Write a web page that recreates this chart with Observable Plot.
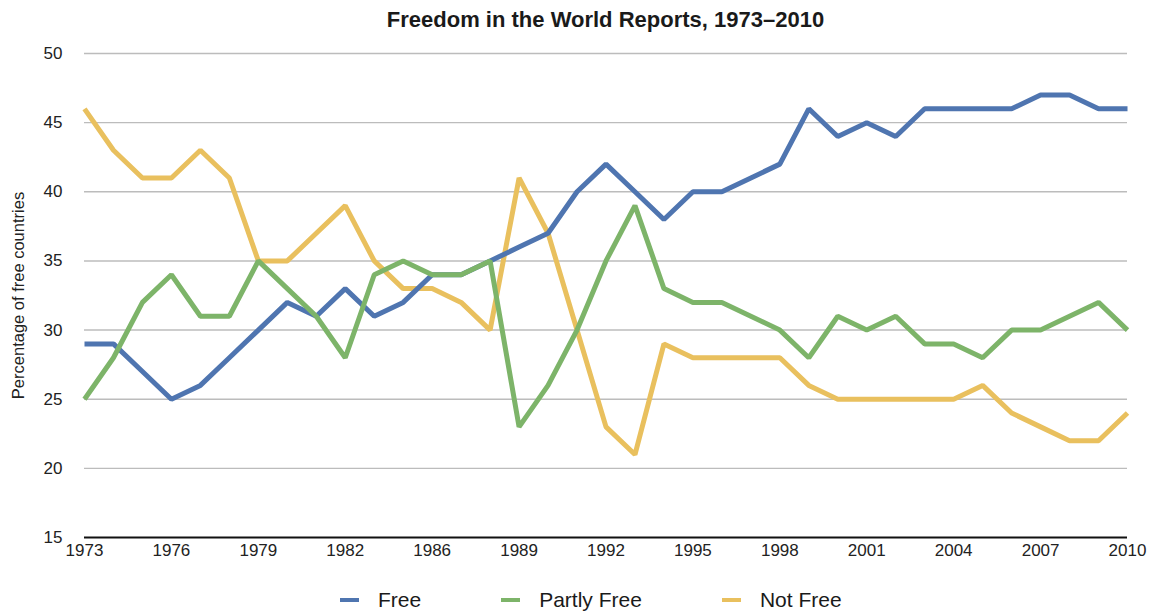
<!DOCTYPE html>
<html>
<head>
<meta charset="utf-8">
<script src="https://cdn.jsdelivr.net/npm/d3@7"></script>
<script src="https://cdn.jsdelivr.net/npm/@observablehq/plot@0.6"></script>
<style>
  html, body { margin: 0; padding: 0; background: #fff; }
  body { width: 1150px; height: 614px; overflow: hidden; font-family: "Liberation Sans", Arial, Helvetica, sans-serif; color: #1a1a1a; }
  #title { height: 40px; line-height: 40px; padding-left: 84px; padding-right: 23px; text-align: center; font-weight: bold; font-size: 22px; }
  #chart svg { display: block; }
  #chart svg [aria-label="y-axis label"] text { font-size: 16.5px; }
  #legend { height: 34px; display: flex; justify-content: flex-start; align-items: center; padding-left: 340px; padding-top: 6px; font-size: 21px; box-sizing: border-box; }
  .item { display: flex; align-items: center; margin-right: 80px; }
  .sw { width: 19px; height: 4px; margin-right: 19px; }
</style>
</head>
<body>
<div id="title">Freedom in the World Reports, 1973–2010</div>
<div id="chart"></div>
<div id="legend"></div>
<script>
const years = ["1973","1974","1975","1976","1977","1978","1979","1980","1981","1982","1983","1984",
  "1986","1987","1988","1989","1990","1991","1992","1993","1994","1995","1996","1997","1998","1999",
  "2000","2001","2002","2003","2004","2005","2006","2007","2008","2009","2010"];
const free =       [29,29,27,25,26,28,30,32,31,33,31,32,34,34,35,36,37,40,42,40,38,40,40,41,42,46,44,45,44,46,46,46,46,47,47,46,46];
const partlyFree = [25,28,32,34,31,31,35,33,31,28,34,35,34,34,35,23,26,30,35,39,33,32,32,31,30,28,31,30,31,29,29,28,30,30,31,32,30];
const notFree =    [46,43,41,41,43,41,35,35,37,39,35,33,33,32,30,41,37,30,23,21,29,28,28,28,28,26,25,25,25,25,25,26,24,23,22,22,24];
const tickYears = ["1973","1976","1979","1982","1986","1989","1992","1995","1998","2001","2004","2007","2010"];
const yTicks = [15,20,25,30,35,40,45,50];
const seriesNames = ["Free","Partly Free","Not Free"];
const seriesColors = ["#4f75b0","#7db469","#e9c05e"];

const table = (name, vals) => vals.map((v, i) => ({series: name, year: years[i], value: v}));
const rowsFree = table("Free", free);
const rowsPartly = table("Partly Free", partlyFree);
const rowsNot = table("Not Free", notFree);

const lineOpts = {x: "year", y: "value", stroke: "series", strokeWidth: 5, strokeLinejoin: "miter", strokeLinecap: "butt", curve: "linear"};

const chart = Plot.plot({
  width: 1150,
  height: 540,
  marginLeft: 84,
  marginRight: 23,
  marginTop: 13,
  marginBottom: 43,
  style: {fontFamily: '"Liberation Sans", Arial, Helvetica, sans-serif', fontSize: "17px", color: "#222", background: "#fff", overflow: "visible"},
  x: {type: "point", domain: years, padding: 0},
  y: {domain: [15, 50]},
  color: {domain: seriesNames, range: seriesColors},
  marks: [
    Plot.ruleY(yTicks.filter(d => d > 15), {stroke: "#bcbcbc", strokeWidth: 1.4}),
    Plot.axisX({ticks: tickYears, tickSize: 0, tickPadding: 6, label: null, fontSize: 17}),
    Plot.axisY({ticks: yTicks, tickSize: 0, tickPadding: 22, fontSize: 17, label: "Percentage of free countries", labelAnchor: "center", labelArrow: "none", labelOffset: 72}),
    Plot.line(rowsNot, lineOpts),
    Plot.line(rowsFree, lineOpts),
    Plot.line(rowsPartly, lineOpts),
    Plot.ruleY([15], {stroke: "#111", strokeWidth: 2})
  ]
});
document.getElementById("chart").appendChild(chart);

const legend = document.getElementById("legend");
seriesNames.forEach((name, i) => {
  const item = document.createElement("div");
  item.className = "item";
  const sw = document.createElement("span");
  sw.className = "sw";
  sw.style.background = seriesColors[i];
  const label = document.createElement("span");
  label.textContent = name;
  item.appendChild(sw);
  item.appendChild(label);
  legend.appendChild(item);
});
</script>
</body>
</html>
